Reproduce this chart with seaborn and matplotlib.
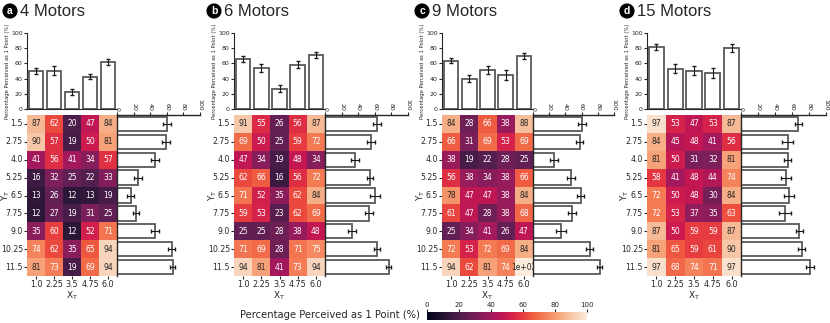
import numpy as np
import pandas as pd
import seaborn as sns
import matplotlib.pyplot as plt

sns.set_style("ticks")

x_labels = ["1.0", "2.25", "3.5", "4.75", "6.0"]
y_labels = ["1.5", "2.75", "4.0", "5.25", "6.5", "7.75", "9.0", "10.25", "11.5"]
titles = ["4 Motors", "6 Motors", "9 Motors", "15 Motors"]
letters = ["a", "b", "c", "d"]

motors4 = [[87, 62, 20, 47, 84], [90, 57, 19, 50, 81], [41, 56, 41, 34, 57],
           [16, 32, 25, 22, 33], [13, 26, 12, 13, 19], [12, 27, 19, 31, 25],
           [35, 60, 12, 52, 71], [74, 62, 35, 65, 94], [81, 73, 19, 69, 94]]
motors6 = [[91, 55, 26, 56, 87], [69, 50, 25, 59, 72], [47, 34, 19, 48, 34],
           [62, 66, 16, 56, 72], [71, 52, 35, 62, 84], [59, 53, 23, 62, 69],
           [25, 25, 28, 38, 48], [71, 69, 28, 71, 75], [94, 81, 41, 73, 94]]
motors9 = [[84, 28, 66, 38, 88], [66, 31, 69, 53, 69], [38, 19, 22, 28, 25],
           [56, 38, 34, 38, 66], [78, 47, 47, 38, 84], [61, 47, 28, 38, 68],
           [25, 34, 41, 26, 47], [72, 53, 72, 69, 84], [94, 62, 81, 74, 100]]
motors15 = [[97, 53, 47, 53, 87], [84, 45, 48, 41, 56], [81, 50, 31, 32, 81],
            [58, 41, 48, 44, 74], [72, 50, 48, 30, 84], [72, 53, 37, 35, 63],
            [87, 50, 59, 59, 87], [81, 65, 59, 61, 90], [97, 68, 74, 71, 97]]

# bar heights (column / row averages)
top4 = [49.9, 50.6, 22.4, 42.6, 62.0]
top6 = [65.4, 53.9, 26.8, 58.3, 70.6]
top9 = [63.8, 39.9, 51.1, 44.7, 70.1]
top15 = [81.0, 52.8, 50.1, 47.3, 79.9]
top_err4 = [4, 6, 4, 3, 4]
top_err6 = [4, 5, 5, 5, 4]
top_err9 = [3, 5, 5, 6, 4]
top_err15 = [4, 6, 6, 7, 5]

side4 = [60.0, 59.4, 45.8, 25.6, 16.6, 22.8, 46.0, 66.0, 67.2]
side6 = [63.0, 55.0, 36.4, 54.4, 60.8, 53.2, 32.8, 62.8, 76.6]
side9 = [60.8, 57.6, 26.4, 46.4, 58.8, 48.4, 34.6, 70.0, 82.2]
side15 = [67.4, 54.8, 55.0, 53.0, 56.8, 52.0, 68.4, 71.2, 81.4]
side_err4 = [5, 5, 5, 5, 4, 4, 5, 4, 3]
side_err6 = [5, 5, 5, 4, 6, 5, 5, 4, 3]
side_err9 = [5, 4, 5, 5, 4, 5, 6, 4, 3]
side_err15 = [4, 6, 4, 6, 6, 7, 4, 4, 5]

grids = [motors4, motors6, motors9, motors15]
tops = [top4, top6, top9, top15]
top_errs = [top_err4, top_err6, top_err9, top_err15]
sides = [side4, side6, side9, side15]
side_errs = [side_err4, side_err6, side_err9, side_err15]

W, H = 830, 323
fig = plt.figure(figsize=(W / 100, H / 100), dpi=100)

# pixel layout: heatmap left, heatmap right, side bar right
layout = [(27, 117, 200), (234, 325, 408), (442, 533, 614), (647, 741, 826)]
hm_top, hm_bot = 115, 276
tb_top, tb_bot = 33, 109

bar_kw = dict(color="white", edgecolor="0.35", linewidth=1.3)

for i, (hl, hr, rr) in enumerate(layout):
    ax_h = fig.add_axes([hl / W, 1 - hm_bot / H, (hr - hl) / W, (hm_bot - hm_top) / H])
    ax_t = fig.add_axes([hl / W, 1 - tb_bot / H, (hr - hl) / W, (tb_bot - tb_top) / H])
    ax_r = fig.add_axes([hr / W, 1 - hm_bot / H, (rr - hr) / W, (hm_bot - hm_top) / H])

    df = pd.DataFrame(np.array(grids[i], dtype=float), index=y_labels, columns=x_labels)
    sns.heatmap(df, ax=ax_h, cmap="rocket", vmin=0, vmax=100, annot=True,
                annot_kws={"fontsize": 5.5}, cbar=False)
    ax_h.set_yticklabels(y_labels, rotation=0, fontsize=5.6)
    ax_h.set_xticklabels(x_labels, rotation=0, fontsize=5.8)
    ax_h.tick_params(length=2, pad=1)
    ax_h.set_xlabel(r"X$_\mathrm{T}$", fontsize=6.5, labelpad=0)
    ax_h.set_ylabel(r"Y$_\mathrm{T}$", fontsize=6.5)
    ax_h.yaxis.set_label_coords(-0.17, 0.5)

    # top marginal bars
    sns.barplot(x=x_labels, y=tops[i], ax=ax_t, width=0.8, **bar_kw)
    ax_t.errorbar(range(5), tops[i], yerr=top_errs[i], fmt="none",
                  ecolor="0.1", elinewidth=0.8, capsize=1.5)
    ax_t.set_xlim(-0.5, 4.5)
    ax_t.set_ylim(0, 100)
    ax_t.set_yticks([0, 20, 40, 60, 80, 100])
    ax_t.set_xticks([])
    ax_t.tick_params(axis="y", labelsize=4.5, length=2, pad=1)
    ax_t.set_ylabel("Percentage Perceived as 1 Point (%)", fontsize=3.8, labelpad=1)
    for s in ["top", "right"]:
        ax_t.spines[s].set_visible(False)
    ax_t.spines["left"].set_linewidth(0.8)
    ax_t.spines["bottom"].set_linewidth(0.8)

    # side marginal bars
    sns.barplot(x=sides[i], y=y_labels, orient="h", ax=ax_r, width=0.8, **bar_kw)
    ax_r.errorbar(sides[i], range(9), xerr=side_errs[i], fmt="none",
                  ecolor="0.1", elinewidth=0.8, capsize=1.5)
    ax_r.set_ylim(8.5, -0.5)
    ax_r.set_xlim(0, 100)
    ax_r.set_yticks([])
    ax_r.set_ylabel("")
    ax_r.xaxis.tick_top()
    ax_r.set_xticks([0, 20, 40, 60, 80, 100])
    ax_r.tick_params(axis="x", labelsize=4.5, length=2, pad=1, labelrotation=-90)
    for s in ["bottom", "right"]:
        ax_r.spines[s].set_visible(False)
    ax_r.spines["left"].set_linewidth(1.0)
    ax_r.spines["top"].set_linewidth(1.0)

    # panel title
    px = hl - 24 if i == 0 else hl - 27
    fig.text((px + 7) / W, 1 - 11 / H, letters[i], fontsize=7.5, color="white",
             ha="center", va="center", family="Liberation Sans", fontweight="bold",
             bbox=dict(boxstyle="circle,pad=0.18", fc="black", ec="black"))
    fig.text((px + 17) / W, 1 - 11 / H, titles[i], fontsize=12,
             ha="left", va="center", family="Liberation Sans")

# shared colorbar
cax = fig.add_axes([427 / W, 1 - 320 / H, 160 / W, 8 / H])
cb = fig.colorbar(fig.axes[0].collections[0], cax=cax, orientation="horizontal")
cb.set_ticks([0, 20, 40, 60, 80, 100])
cb.outline.set_visible(False)
cax.xaxis.tick_top()
cax.tick_params(labelsize=5, length=2, pad=1)
fig.text(420 / W, 1 - 315 / H, "Percentage Perceived as 1 Point (%)",
         fontsize=7.2, ha="right", va="center")

fig.savefig("out.png", dpi=100)
